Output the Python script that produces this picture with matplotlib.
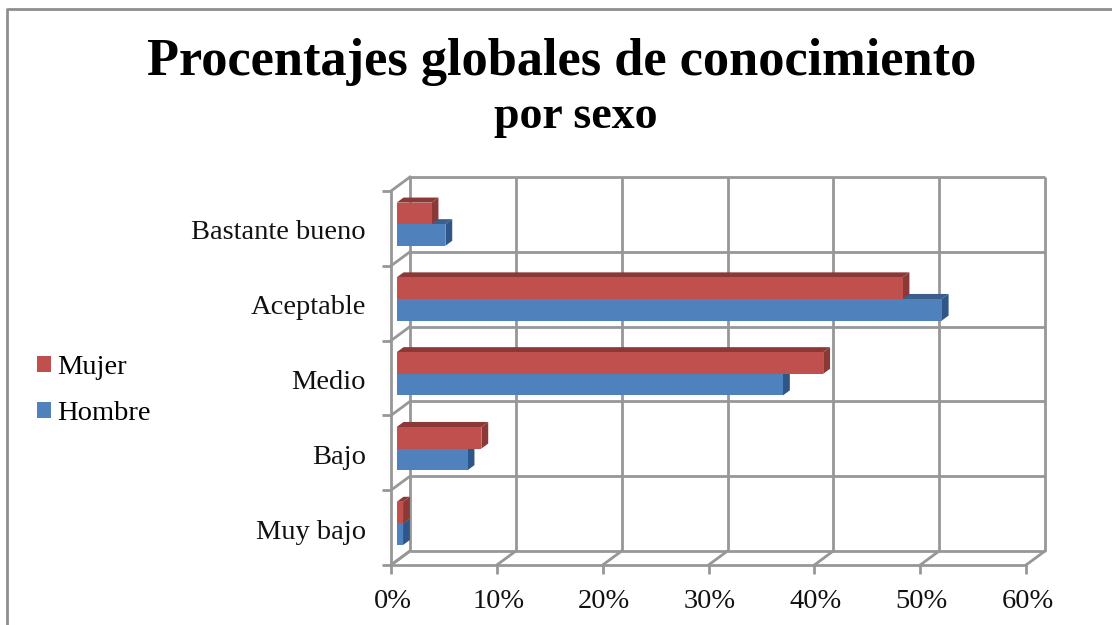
import numpy as np
from matplotlib import pyplot as plt
from matplotlib.patches import Patch, Polygon
from matplotlib.transforms import ScaledTranslation

categories = ['Muy bajo', 'Bajo', 'Medio', 'Aceptable', 'Bastante bueno']
mujer = [0.6, 8.0, 40.3, 47.8, 3.3]
hombre = [0.6, 6.7, 36.5, 51.5, 4.6]
x_ticks = [0, 10, 20, 30, 40, 50, 60]
x_labels = ['0%', '10%', '20%', '30%', '40%', '50%', '60%']

GRID = '#979797'
RED = '#c0504d'
RED_DARK = '#8c3836'
BLUE = '#4f81bd'
BLUE_TOP = '#3a5f8b'
BLUE_SIDE = '#2f5688'

W, H = 1112, 625
plt.rcParams['font.family'] = ['Liberation Serif', 'DejaVu Serif']

fig = plt.figure(figsize=(W / 100, H / 100), dpi=100)
ax = fig.add_axes([391 / W, (H - 565) / H, 635 / W, 374 / H])
ax.set_xlim(0, 60)
ax.set_ylim(-0.5, 4.5)
ax.patch.set_alpha(0)

# pseudo 3d: depth of the box and of the bars, in data units
depth_x = 19 / (635 / 60)
depth_y = 14 / (374 / 5)
bar_d0, bar_d1 = 0.30, 0.66
bar_h = 21.6 / (374 / 5)

edges = np.arange(-0.5, 5, 1)
lw = 2.0

# back wall and floor / side lines
ax.vlines(np.array(x_ticks) + depth_x, -0.5 + depth_y, 4.5 + depth_y, color=GRID, lw=lw, clip_on=False, zorder=1)
ax.hlines(edges + depth_y, depth_x, 60 + depth_x, color=GRID, lw=lw, clip_on=False, zorder=1)
for t in x_ticks:
    ax.plot([t, t + depth_x], [-0.5, -0.5 + depth_y], color=GRID, lw=lw, clip_on=False, zorder=1)
for e in edges:
    ax.plot([0, depth_x], [e, e + depth_y], color=GRID, lw=lw, clip_on=False, zorder=1)


def bar3d(y, value, front, top, side):
    x0 = bar_d0 * depth_x
    x1 = x0 + value
    y0 = y + bar_d0 * depth_y
    y1 = y0 + bar_h
    dx = (bar_d1 - bar_d0) * depth_x
    dy = (bar_d1 - bar_d0) * depth_y
    ax.add_patch(Polygon([(x0, y1), (x1, y1), (x1 + dx, y1 + dy), (x0 + dx, y1 + dy)],
                         facecolor=top, edgecolor='none', zorder=3, clip_on=False))
    ax.add_patch(Polygon([(x1, y0), (x1 + dx, y0 + dy), (x1 + dx, y1 + dy), (x1, y1)],
                         facecolor=side, edgecolor='none', zorder=3, clip_on=False))
    ax.barh(y0, value, height=bar_h, left=x0, align='edge', color=front, zorder=3, clip_on=False)


for i in range(len(categories)):
    bar3d(i - bar_h, hombre[i], BLUE, BLUE_TOP, BLUE_SIDE)
    bar3d(i, mujer[i], RED, RED_DARK, RED_DARK)

for s in ['top', 'right']:
    ax.spines[s].set_visible(False)
for s in ['left', 'bottom']:
    ax.spines[s].set_color(GRID)
    ax.spines[s].set_linewidth(lw)

ax.set_xticks(x_ticks)
ax.set_xticklabels(x_labels, fontsize=20.5, color='#111111')
ax.tick_params(axis='x', length=6.5, width=lw, color=GRID, pad=10.7)
ax.set_yticks(range(len(categories)))
ax.set_yticklabels(categories, fontsize=20.5, color='#111111')
ax.tick_params(axis='y', which='major', length=0, pad=18)
ax.set_yticks(edges, minor=True)
ax.tick_params(axis='y', which='minor', length=6.5, width=lw, color=GRID)
nudge_y = ScaledTranslation(0, -1.5 / 100, fig.dpi_scale_trans)
for lab in ax.get_yticklabels():
    lab.set_transform(lab.get_transform() + nudge_y)
nudge_x = ScaledTranslation(1.5 / 100, 0, fig.dpi_scale_trans)
for lab in ax.get_xticklabels():
    lab.set_transform(lab.get_transform() + nudge_x)

fig.text(562 / W, 1 - 75 / H, 'Procentajes globales de conocimiento', ha='center', va='baseline',
         fontsize=37.7, fontweight='bold', color='black')
fig.text(576 / W, 1 - 128 / H, 'por sexo', ha='center', va='baseline',
         fontsize=33, fontweight='bold', color='black')

handles = [Patch(facecolor=RED), Patch(facecolor=BLUE)]
fig.legend(handles, ['Mujer', 'Hombre'], loc='upper left', bbox_to_anchor=(37 / W, 1 - 355 / H),
           frameon=False, fontsize=20.5, handlelength=0.49, handleheight=0.49, handletextpad=0.21,
           labelspacing=0.75, borderaxespad=0, borderpad=0)

# chart frame, cut off at right and bottom of the screenshot
fig.add_artist(plt.Line2D([7 / W, 7 / W, 1], [0, 1 - 9 / H, 1 - 9 / H], color='#8e8e8e', lw=2.0))

fig.savefig('out.png', dpi=100)
